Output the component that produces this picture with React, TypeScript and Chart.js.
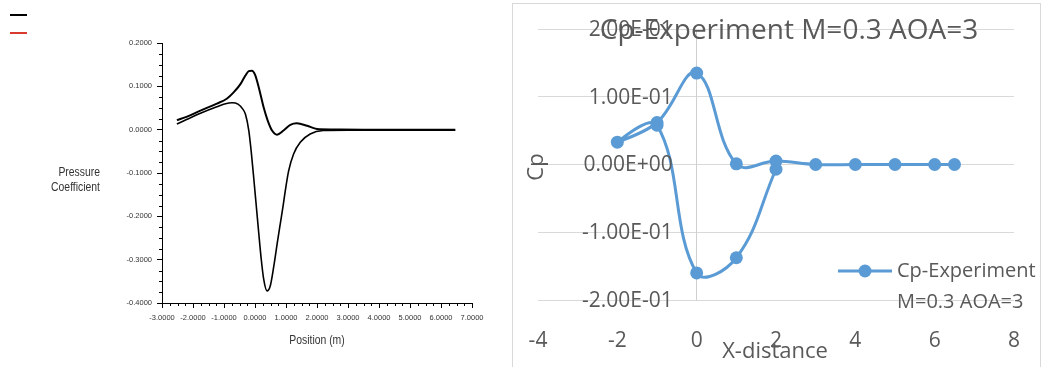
import React, { useEffect, useRef } from 'react';
import { Chart, registerables } from 'chart.js';

Chart.register(...registerables);

// ---------- Left panel: simulated pressure coefficient ----------
const SIM_UPPER_X = [-2.52, -2.19, -1.76, -1.23, -0.9, -0.69, -0.47, -0.31, -0.2, -0.1, 0.0, 0.12, 0.28, 0.41, 0.55, 0.71, 0.92, 1.14, 1.35, 1.68, 2.0, 2.5, 3.5, 4.5, 5.5, 6.46];
const SIM_UPPER_Y = [0.022, 0.03, 0.044, 0.06, 0.072, 0.086, 0.105, 0.125, 0.135, 0.136, 0.127, 0.098, 0.051, 0.021, -0.002, -0.0115, -0.002, 0.011, 0.0146, 0.009, 0.0015, 0.0005, 0, 0, 0, 0];
const SIM_LOWER_X = [-2.52, -2.19, -1.76, -1.23, -0.95, -0.74, -0.55, -0.4, -0.31, -0.2, -0.12, -0.04, 0.04, 0.12, 0.2, 0.28, 0.387, 0.494, 0.6, 0.73, 0.82, 0.9, 0.977, 1.085, 1.245, 1.46, 1.78, 2.2, 3.0, 4.0, 5.0, 6.0, 6.46];
const SIM_LOWER_Y = [0.013, 0.024, 0.038, 0.053, 0.06, 0.062, 0.059, 0.048, 0.036, -0.002, -0.052, -0.112, -0.175, -0.238, -0.298, -0.345, -0.372, -0.36, -0.318, -0.256, -0.215, -0.179, -0.141, -0.095, -0.056, -0.029, -0.01, -0.002, -0.001, -0.001, -0.001, -0.001, -0.001];
const SIM_X_TICKS = [-3, -2, -1, 0, 1, 2, 3, 4, 5, 6, 7];
const SIM_Y_TICKS = [-0.4, -0.3, -0.2, -0.1, 0, 0.1, 0.2];
const SIM_Y_TITLE = ['Pressure', 'Coefficient'];
const SIM_X_TITLE = 'Position (m)';

// ---------- Right panel: experiment ----------
const EXP_TITLE = 'Cp-Experiment M=0.3 AOA=3';
const EXP_SERIES = 'Cp-Experiment M=0.3 AOA=3';
const EXP_X = [6.5, 6, 5, 4, 3, 2, 1, 0, -1, -2, -1, 0, 1, 2];
const EXP_CP = [0, 0, 0, 0, 0, 0.005, 0.001, 0.135, 0.062, 0.033, 0.058, -0.16, -0.1376, -0.007];
const EXP_X_TICKS = [-4, -2, 0, 2, 4, 6, 8];
const EXP_Y_TICKS = [-0.2, -0.1, 0, 0.1, 0.2];
const EXP_X_TITLE = 'X-distance';
const EXP_Y_TITLE = 'Cp';

const SANS = "'Liberation Sans', Arial, sans-serif";
const EXCEL = "'Open Sans', 'Noto Sans', sans-serif";
const GRAY_TEXT = '#595959';
const BLUE = '#5B9BD5';

const fmt4 = (v: number) => (Math.abs(v) < 1e-9 ? 0 : v).toFixed(4);
const sci = (v: number) => {
  if (Math.abs(v) < 1e-12) return '0.00E+00';
  const e = Math.floor(Math.log10(Math.abs(v)) + 1e-9);
  const m = v / Math.pow(10, e);
  const ae = Math.abs(e);
  return m.toFixed(2) + 'E' + (e < 0 ? '-' : '+') + (ae < 10 ? '0' + ae : String(ae));
};
const setTicks = (arr: number[]) => (s: any) => {
  s.ticks = arr.map((v) => ({ value: v }));
};

// draws text squeezed horizontally (the source figure uses a condensed face)
const narrowText = (ctx: CanvasRenderingContext2D, text: string, x: number, y: number, sx: number) => {
  ctx.save();
  ctx.translate(x, y);
  ctx.scale(sx, 1);
  ctx.fillText(text, 0, 0);
  ctx.restore();
};

const simDecor = {
  id: 'simDecor',
  afterDraw(chart: any) {
    const { ctx, chartArea } = chart;
    const xs = chart.scales.x;
    const ys = chart.scales.y;
    ctx.save();
    ctx.strokeStyle = '#000';
    ctx.lineWidth = 1;
    ctx.beginPath();
    for (let i = 0; i < SIM_X_TICKS.length - 1; i++) {
      for (let k = 1; k < 4; k++) {
        const v = SIM_X_TICKS[i] + ((SIM_X_TICKS[i + 1] - SIM_X_TICKS[i]) * k) / 4;
        const px = Math.round(xs.getPixelForValue(v)) + 0.5;
        ctx.moveTo(px, chartArea.bottom);
        ctx.lineTo(px, chartArea.bottom + 3);
      }
    }
    for (let i = 0; i < SIM_Y_TICKS.length - 1; i++) {
      for (let k = 1; k < 4; k++) {
        const v = SIM_Y_TICKS[i] + ((SIM_Y_TICKS[i + 1] - SIM_Y_TICKS[i]) * k) / 4;
        const py = Math.round(ys.getPixelForValue(v)) + 0.5;
        ctx.moveTo(chartArea.left - 3, py);
        ctx.lineTo(chartArea.left, py);
      }
    }
    ctx.stroke();
    ctx.fillStyle = '#333';
    ctx.font = `13px ${SANS}`;
    ctx.textAlign = 'right';
    ctx.textBaseline = 'middle';
    narrowText(ctx, SIM_Y_TITLE[0], 100, 172.5, 0.8);
    narrowText(ctx, SIM_Y_TITLE[1], 100, 187.5, 0.8);
    ctx.textAlign = 'center';
    narrowText(ctx, SIM_X_TITLE, (chartArea.left + chartArea.right) / 2, 340.5, 0.8);
    ctx.restore();
  },
};

const expDecor = {
  id: 'expDecor',
  afterDraw(chart: any) {
    const { ctx } = chart;
    const xs = chart.scales.x;
    const ys = chart.scales.y;
    const ds = chart.data.datasets[0];
    ctx.save();
    // y tick labels, placed beside the vertical axis that crosses at x = 0
    ctx.fillStyle = GRAY_TEXT;
    ctx.font = `21px ${EXCEL}`;
    ctx.textAlign = 'right';
    ctx.textBaseline = 'middle';
    const axisX = xs.getPixelForValue(0);
    ys.ticks.forEach((t: any) => {
      ctx.fillText(sci(t.value), axisX - 24, ys.getPixelForValue(t.value) + 1);
    });
    // title
    ctx.textBaseline = 'alphabetic';
    ctx.textAlign = 'center';
    ctx.font = `28px ${EXCEL}`;
    ctx.fillText(EXP_TITLE, 276, 35);
    // axis titles
    ctx.font = `22px ${EXCEL}`;
    ctx.fillText(EXP_X_TITLE, 262, 354);
    ctx.save();
    ctx.translate(24, 163);
    ctx.rotate(-Math.PI / 2);
    ctx.textBaseline = 'middle';
    ctx.fillText(EXP_Y_TITLE, 0, 0);
    ctx.restore();
    // legend
    ctx.strokeStyle = ds.borderColor;
    ctx.lineWidth = 3;
    ctx.beginPath();
    ctx.moveTo(325, 267);
    ctx.lineTo(379, 267);
    ctx.stroke();
    ctx.fillStyle = ds.pointBackgroundColor;
    ctx.beginPath();
    ctx.arc(352, 267, 6.5, 0, Math.PI * 2);
    ctx.fill();
    ctx.fillStyle = GRAY_TEXT;
    ctx.font = `20px ${EXCEL}`;
    ctx.textAlign = 'left';
    ctx.textBaseline = 'middle';
    const sp = ds.label.indexOf(' ');
    ctx.fillText(ds.label.slice(0, sp), 384, 267);
    ctx.fillText(ds.label.slice(sp + 1), 384, 298.5);
    ctx.restore();
  },
};

function SimChart() {
  const ref = useRef<HTMLCanvasElement>(null);
  useEffect(() => {
    const chart = new Chart(ref.current as HTMLCanvasElement, {
      type: 'scatter',
      data: {
        datasets: [
          {
            label: 'Upper',
            data: SIM_UPPER_X.map((x, i) => ({ x, y: SIM_UPPER_Y[i] })),
            showLine: true,
            borderColor: '#000',
            borderWidth: 2,
            pointRadius: 0,
            cubicInterpolationMode: 'monotone',
          } as any,
          {
            label: 'Lower',
            data: SIM_LOWER_X.map((x, i) => ({ x, y: SIM_LOWER_Y[i] })),
            showLine: true,
            borderColor: '#000',
            borderWidth: 1.6,
            pointRadius: 0,
            cubicInterpolationMode: 'monotone',
          } as any,
        ],
      },
      options: {
        responsive: false,
        animation: false,
        devicePixelRatio: 1,
        layout: { padding: { left: 100, right: 28, top: 43, bottom: 24 } },
        plugins: { legend: { display: false }, tooltip: { enabled: false } },
        scales: {
          x: {
            type: 'linear',
            min: SIM_X_TICKS[0],
            max: SIM_X_TICKS[SIM_X_TICKS.length - 1],
            afterBuildTicks: setTicks(SIM_X_TICKS),
            afterFit: (s: any) => {
              s.height = 40;
            },
            grid: { drawOnChartArea: false, drawTicks: true, tickLength: 5, tickColor: '#000', tickWidth: 1 },
            border: { color: '#000', width: 1 },
            ticks: {
              font: { family: SANS, size: 7.5 },
              color: '#333',
              padding: 5,
              maxRotation: 0,
              autoSkip: false,
              callback: (v: any) => fmt4(Number(v)),
            },
          },
          y: {
            type: 'linear',
            min: SIM_Y_TICKS[0],
            max: SIM_Y_TICKS[SIM_Y_TICKS.length - 1],
            afterBuildTicks: setTicks(SIM_Y_TICKS),
            afterFit: (s: any) => {
              s.width = 62;
            },
            grid: { drawOnChartArea: false, drawTicks: true, tickLength: 5, tickColor: '#000', tickWidth: 1 },
            border: { color: '#000', width: 1 },
            ticks: {
              font: { family: SANS, size: 7.5 },
              color: '#333',
              padding: 5,
              autoSkip: false,
              callback: (v: any) => fmt4(Number(v)),
            },
          },
        },
      },
      plugins: [simDecor],
    } as any);
    return () => chart.destroy();
  }, []);
  return <canvas ref={ref} width={500} height={367} style={{ position: 'absolute', left: 0, top: 0 }} />;
}

function ExpChart() {
  const ref = useRef<HTMLCanvasElement>(null);
  useEffect(() => {
    const chart = new Chart(ref.current as HTMLCanvasElement, {
      type: 'scatter',
      data: {
        datasets: [
          {
            label: EXP_SERIES,
            data: EXP_X.map((x, i) => ({ x, y: EXP_CP[i] })),
            showLine: true,
            borderColor: BLUE,
            backgroundColor: BLUE,
            pointBackgroundColor: BLUE,
            pointBorderColor: BLUE,
            borderWidth: 3,
            pointRadius: 6.5,
            pointBorderWidth: 0,
            tension: 0.4,
          } as any,
        ],
      },
      options: {
        responsive: false,
        animation: false,
        devicePixelRatio: 1,
        layout: { padding: { left: 25, right: 32, top: 25, bottom: 0 } },
        plugins: { legend: { display: false }, tooltip: { enabled: false } },
        scales: {
          x: {
            type: 'linear',
            position: 'bottom',
            min: EXP_X_TICKS[0],
            max: EXP_X_TICKS[EXP_X_TICKS.length - 1],
            afterBuildTicks: setTicks(EXP_X_TICKS),
            afterFit: (s: any) => {
              s.height = 67;
            },
            grid: { display: false, drawTicks: true, tickLength: 28 },
            border: { display: false },
            ticks: {
              font: { family: EXCEL, size: 21 },
              color: GRAY_TEXT,
              padding: 0,
              maxRotation: 0,
              autoSkip: false,
            },
          },
          y: {
            type: 'linear',
            position: { x: 0 },
            min: EXP_Y_TICKS[0],
            max: EXP_Y_TICKS[EXP_Y_TICKS.length - 1],
            afterBuildTicks: setTicks(EXP_Y_TICKS),
            grid: { color: '#d9d9d9', lineWidth: 1, drawTicks: false },
            border: { color: '#d0d0d0', width: 1 },
            ticks: { display: false },
          },
        },
      },
      plugins: [expDecor],
    } as any);
    return () => chart.destroy();
  }, []);
  return <canvas ref={ref} width={533} height={363} style={{ position: 'absolute', left: 513, top: 4 }} />;
}

export default function App() {
  return (
    <div
      style={{
        position: 'fixed',
        left: 0,
        top: 0,
        width: 1046,
        height: 367,
        overflow: 'hidden',
        background: '#fff',
      }}
    >
      <div style={{ position: 'absolute', left: 10, top: 14, width: 17, height: 2, background: '#000' }} />
      <div style={{ position: 'absolute', left: 10, top: 32, width: 17, height: 2, background: '#d93a2f' }} />
      <SimChart />
      <div
        style={{
          position: 'absolute',
          left: 512,
          top: 3,
          width: 529,
          height: 420,
          border: '1px solid #d9d9d9',
          boxSizing: 'border-box',
        }}
      />
      <ExpChart />
    </div>
  );
}
